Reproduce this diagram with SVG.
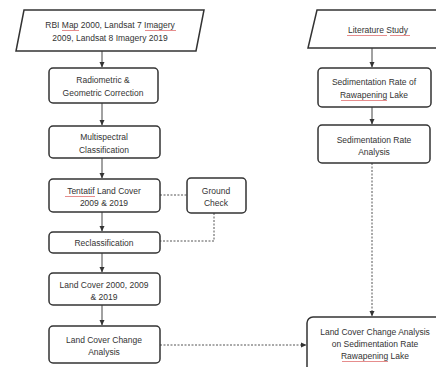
<svg xmlns="http://www.w3.org/2000/svg" width="436" height="367" viewBox="0 0 436 367">
<defs>
<marker id="ah" markerWidth="6" markerHeight="6" refX="5" refY="3" orient="auto" markerUnits="userSpaceOnUse">
<path d="M0,0.5 L5.5,3 L0,5.5 Z" fill="#333"/>
</marker>
<style>
.box{fill:#fff;stroke:#333;stroke-width:1.5}
.t{font-family:"Liberation Sans",Arial,sans-serif;font-size:8.5px;fill:#333;text-anchor:middle}
.c{fill:none;stroke:#444;stroke-width:1}
.d{fill:none;stroke:#555;stroke-width:1;stroke-dasharray:2,1.5}
.sp{fill:none;stroke:#e07070;stroke-width:0.8}
</style>
</defs>
<rect width="436" height="367" fill="#fff"/>
<g id="connectors">
<path class="c" d="M102,51 V67" marker-end="url(#ah)"/>
<path class="c" d="M102,103 V125" marker-end="url(#ah)"/>
<path class="c" d="M102,158 V178" marker-end="url(#ah)"/>
<path class="c" d="M102,212 V231" marker-end="url(#ah)"/>
<path class="c" d="M102,253 V272" marker-end="url(#ah)"/>
<path class="c" d="M102,305 V325" marker-end="url(#ah)"/>
<path class="c" d="M372,48 V67" marker-end="url(#ah)"/>
<path class="c" d="M372,107 V124" marker-end="url(#ah)"/>
<path class="d" d="M160,195 H187"/>
<path class="d" d="M214,213 V241 H160"/>
<path class="d" d="M372,163 V316" marker-end="url(#ah)"/>
<path class="d" d="M160,345 H306" marker-end="url(#ah)"/>
</g>
<g id="n-input">
<polygon class="box" points="24,10 204,10 196,51 16,51"/>
<text class="t" x="110" y="28">RBI Map 2000, Landsat 7 Imagery</text>
<text class="t" x="110" y="41">2009, Landsat 8 Imagery  2019</text>
<path class="sp" d="M62,30.5 H79 M145,30.5 H176"/>
</g>
<g id="n-radiometric">
<rect class="box" x="49" y="68" width="109" height="35" rx="4"/>
<text class="t" x="103" y="83">Radiometric &amp;</text>
<text class="t" x="103" y="96">Geometric Correction</text>
</g>
<g id="n-multispectral">
<rect class="box" x="49" y="126" width="111" height="32" rx="4"/>
<text class="t" x="104" y="140">Multispectral</text>
<text class="t" x="104" y="153">Classification</text>
</g>
<g id="n-tentatif">
<rect class="box" x="49" y="179" width="111" height="33" rx="4"/>
<text class="t" x="104" y="194">Tentatif Land Cover</text>
<text class="t" x="104" y="206">2009 &amp; 2019</text>
<path class="sp" d="M65,196.5 H95"/>
</g>
<g id="n-ground">
<rect class="box" x="187" y="178" width="59" height="35" rx="4"/>
<text class="t" x="216" y="194">Ground</text>
<text class="t" x="216" y="206">Check</text>
</g>
<g id="n-reclass">
<rect class="box" x="49" y="232" width="111" height="21" rx="4"/>
<text class="t" x="104" y="246">Reclassification</text>
</g>
<g id="n-landcover">
<rect class="box" x="49" y="273" width="111" height="32" rx="4"/>
<text class="t" x="104" y="288">Land Cover 2000, 2009</text>
<text class="t" x="104" y="300">&amp; 2019</text>
</g>
<g id="n-lcchange">
<rect class="box" x="49" y="326" width="111" height="37" rx="4"/>
<text class="t" x="104" y="343">Land Cover Change</text>
<text class="t" x="104" y="355">Analysis</text>
</g>
<g id="n-literature">
<polygon class="box" points="317,10 446,10 437,48 308,48"/>
<text class="t" x="378" y="33">Literature Study</text>
<path class="sp" d="M347,35.5 H387 M390,35.5 H410"/>
</g>
<g id="n-sedrate">
<rect class="box" x="318" y="68" width="113" height="39" rx="4"/>
<text class="t" x="374" y="85">Sedimentation Rate of</text>
<text class="t" x="374" y="98">Rawapening Lake</text>
<path class="sp" d="M341,100.5 H387"/>
</g>
<g id="n-sedanalysis">
<rect class="box" x="318" y="125" width="112" height="38" rx="4"/>
<text class="t" x="374" y="143">Sedimentation Rate</text>
<text class="t" x="374" y="155">Analysis</text>
</g>
<g id="n-final">
<rect class="box" x="307" y="317" width="140" height="60" rx="6"/>
<text class="t" x="375" y="335">Land Cover Change Analysis</text>
<text class="t" x="375" y="347">on Sedimentation Rate</text>
<text class="t" x="375" y="359">Rawapening Lake</text>
<path class="sp" d="M342,361.5 H388"/>
</g>
</svg>
